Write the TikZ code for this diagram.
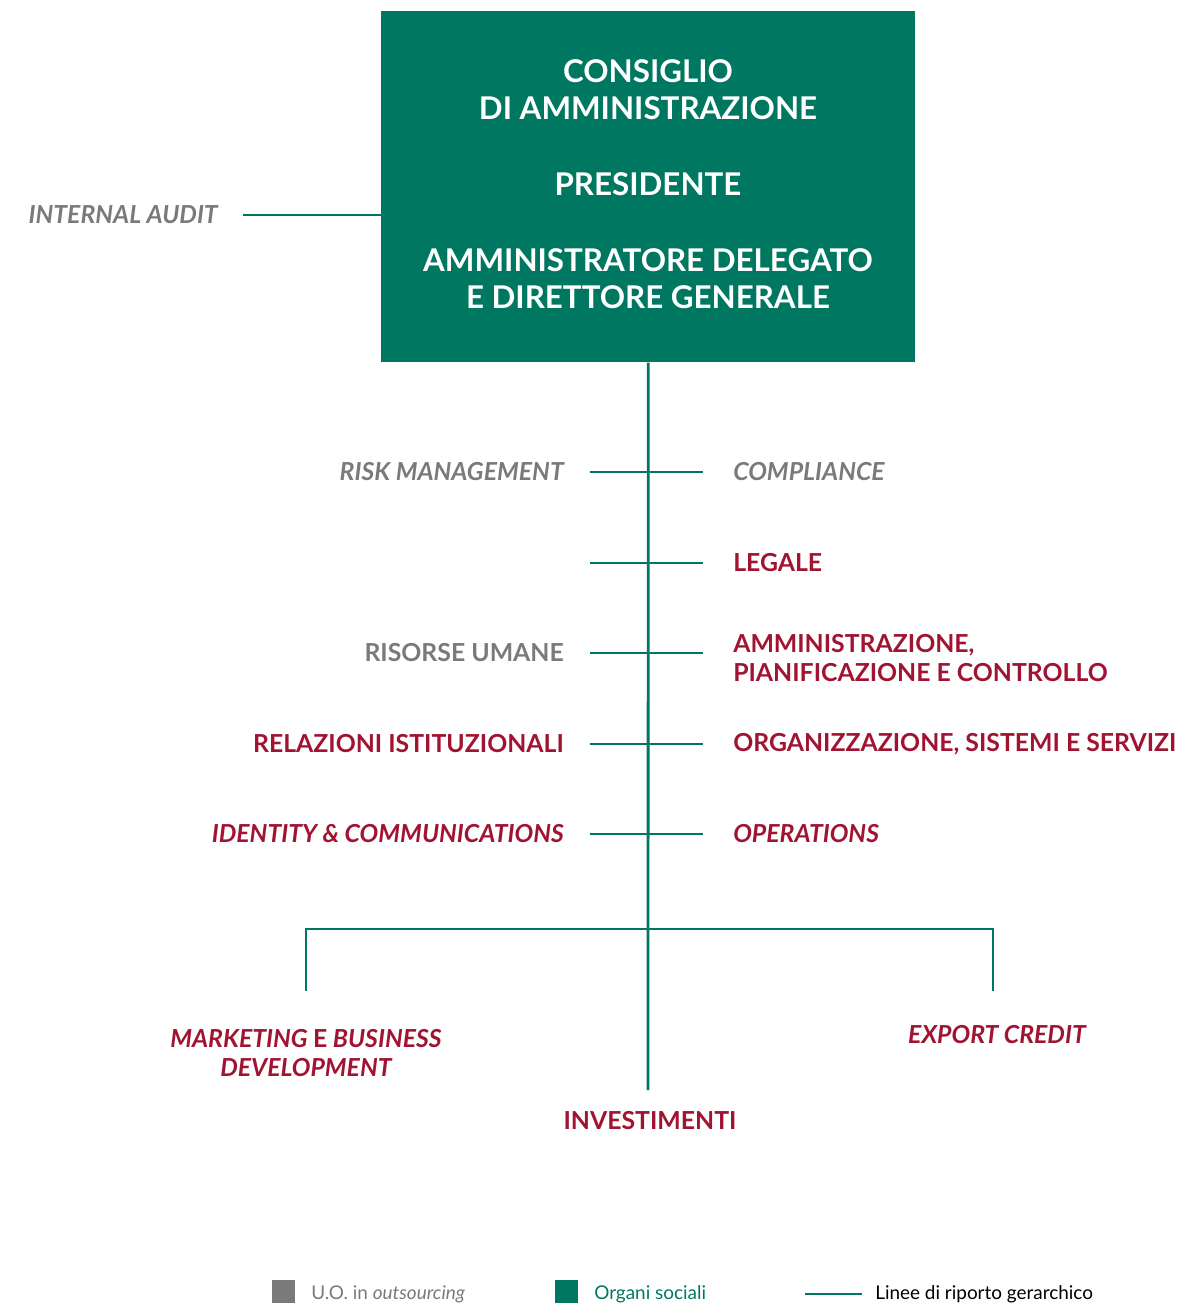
\documentclass[tikz,border=0pt]{standalone}
\usepackage{fontspec}
\setmainfont{Lato}
\definecolor{cdpgreen}{HTML}{007761}
\definecolor{cdpred}{HTML}{A01431}
\definecolor{cdpgray}{HTML}{7A7A7A}
\begin{document}
\begin{tikzpicture}[x=0.75pt,y=-0.75pt,
  conn/.style={draw=cdpgreen,line width=2.1pt},
  boxtxt/.style={text=white,font=\fontsize{23.5}{28}\selectfont\bfseries,align=center,inner sep=0pt},
  lab/.style={font=\fontsize{18.6}{21.5}\selectfont\bfseries,inner sep=0pt},
  labL/.style={lab,anchor=east},
  labR/.style={lab,anchor=west,align=left},
  grayup/.style={text=cdpgray},
  grayit/.style={text=cdpgray,font=\fontsize{18.6}{21.5}\selectfont\bfseries\itshape},
  redup/.style={text=cdpred},
  redit/.style={text=cdpred,font=\fontsize{18.6}{21.5}\selectfont\bfseries\itshape},
  legtxt/.style={font=\fontsize{14.2}{16}\selectfont,anchor=west,inner sep=0pt}]
\useasboundingbox (0,0) rectangle (1188,1303);
% top box
\node[fill=cdpgreen,minimum width=534*0.75pt,minimum height=351*0.75pt,inner sep=0pt,anchor=north west] (top) at (381,11) {};
\node[boxtxt] (cda) at (648,90) {CONSIGLIO\\DI AMMINISTRAZIONE};
\node[boxtxt] (pres) at (648,184) {PRESIDENTE};
\node[boxtxt] (ad) at (648,279) {AMMINISTRATORE DELEGATO\\E DIRETTORE GENERALE};
% internal audit
\node[labL,grayit] (ia) at (218,215) {INTERNAL AUDIT};
\coordinate (iaL) at (243,215);
\draw[conn] (iaL) -- (top.west |- iaL);
% trunk
\coordinate (trunkEnd) at (648,1090);
\draw[conn] (top.south) -- (trunkEnd);
% ticks
\foreach \n/\y in {a/472,b/563,c/653,d/744,e/834}{
  \coordinate (tL\n) at (590,\y);
  \coordinate (tR\n) at (703,\y);
  \draw[conn] (tL\n) -- (tR\n);
}
\node[labL,grayit] (risk) at (564,472) {RISK MANAGEMENT};
\node[labR,grayit] (comp) at (733,472) {COMPLIANCE};
\node[labR,redup] (leg) at (733,563) {LEGALE};
\node[labL,grayup] (ru) at (564,653) {RISORSE UMANE};
\node[labR,redup] (apc) at (733,658) {AMMINISTRAZIONE,\\PIANIFICAZIONE E CONTROLLO};
\node[labL,redup] (rel) at (564,744) {RELAZIONI ISTITUZIONALI};
\node[labR,redup] (oss) at (733,744) {ORGANIZZAZIONE, SISTEMI E SERVIZI};
\node[labL,redit] (idc) at (564,834) {IDENTITY \& COMMUNICATIONS};
\node[labR,redit] (ops) at (733,834) {OPERATIONS};
% bottom bar
\coordinate (barL) at (306,929);
\coordinate (barR) at (993,929);
\coordinate (dropL) at (306,991);
\coordinate (dropR) at (993,991);
\draw[conn] (dropL) -- (barL) -- (barR) -- (dropR);
\node[lab,redit,align=center] (mkt) at (306,1053) {MARKETING {\upshape E} BUSINESS\\DEVELOPMENT};
\node[lab,redit] (exp) at (997,1035) {EXPORT CREDIT};
\node[lab,redup] (inv) at (650,1121) {INVESTIMENTI};
% legend
\node[fill=cdpgray,minimum size=23*0.75pt,inner sep=0pt,anchor=north west] (lg1) at (272,1280) {};
\node[legtxt,text=cdpgray] (lt1) at (311,1294) {U.O. in \textit{outsourcing}};
\node[fill=cdpgreen,minimum size=23*0.75pt,inner sep=0pt,anchor=north west] (lg2) at (555,1280) {};
\node[legtxt,text=cdpgreen] (lt2) at (594,1294) {Organi sociali};
\coordinate (ll1) at (805,1294);
\coordinate (ll2) at (862,1294);
\draw[conn] (ll1) -- (ll2);
\node[legtxt,text=black] (lt3) at (875,1294) {Linee di riporto gerarchico};
\end{tikzpicture}
\end{document}
